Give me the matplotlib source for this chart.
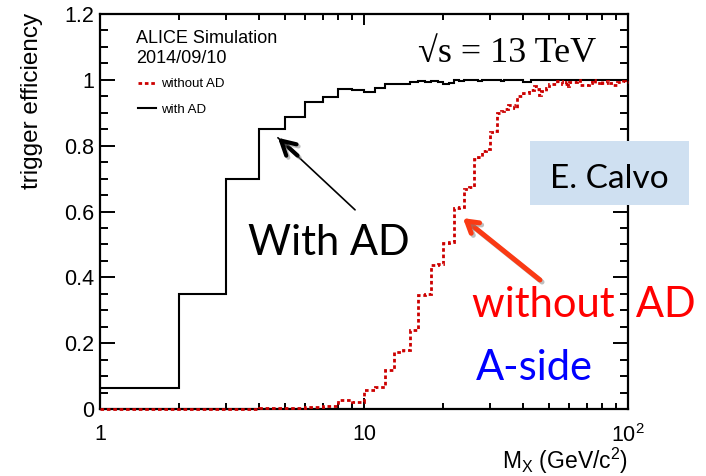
import numpy as np
import matplotlib
matplotlib.use("Agg")
import matplotlib.pyplot as plt
from matplotlib import patheffects
from matplotlib.ticker import FixedLocator, FixedFormatter
from matplotlib.patches import Rectangle

plt.rcParams['font.family'] = ['Liberation Sans', 'DejaVu Sans']
plt.rcParams['mathtext.fontset'] = 'custom'
plt.rcParams['mathtext.rm'] = 'Liberation Sans'
plt.rcParams['mathtext.it'] = 'Liberation Sans:italic'

# M_X bins, width 1 GeV/c^2 from 1 to 100
mx_edges = np.arange(1, 101)

eff_with_ad = [
    0.065, 0.350, 0.700, 0.850, 0.888, 0.934, 0.949, 0.972, 0.970, 0.963,
    0.975, 0.988, 0.986, 0.988, 0.994, 0.995, 0.993, 0.995, 0.994, 0.988,
    0.989, 0.998, 0.997, 0.998, 0.999, 0.998, 0.997, 0.998, 0.999, 0.998,
    0.998, 0.999, 0.997, 0.998, 0.999, 0.998, 0.998, 0.999, 0.998, 0.993,
    0.993, 0.993, 1.000, 0.999, 1.000, 1.000, 0.999, 1.000, 1.000, 0.999,
    1.000, 1.000, 1.000, 0.999, 1.000, 1.000, 1.000, 1.000, 0.999, 1.000,
    1.000, 1.000, 1.000, 1.000, 0.999, 1.000, 1.000, 1.000, 1.000, 1.000,
    1.000, 0.999, 1.000, 1.000, 1.000, 1.000, 1.000, 1.000, 1.000, 1.000,
    0.999, 1.000, 1.000, 1.000, 1.000, 1.000, 1.000, 1.000, 1.000, 1.000,
    1.000, 1.000, 1.000, 1.000, 1.000, 1.000, 1.000, 1.000, 1.000,
]

eff_without_ad = [
    0.000, 0.000, 0.001, 0.002, 0.004, 0.006, 0.010, 0.027, 0.022, 0.058,
    0.068, 0.119, 0.174, 0.178, 0.240, 0.345, 0.350, 0.436, 0.440, 0.503,
    0.507, 0.610, 0.615, 0.668, 0.673, 0.760, 0.765, 0.785, 0.790, 0.843,
    0.845, 0.900, 0.905, 0.910, 0.924, 0.924, 0.915, 0.950, 0.950, 0.959,
    0.959, 0.968, 0.968, 0.980, 0.971, 0.955, 0.965, 0.965, 0.975, 0.988,
    0.988, 0.988, 0.988, 0.995, 0.995, 0.988, 0.988, 0.993, 0.980, 0.993,
    0.993, 0.993, 0.993, 1.000, 1.000, 0.985, 0.985, 0.985, 0.985, 0.985,
    0.990, 0.990, 1.000, 1.000, 0.990, 0.990, 0.990, 0.990, 0.995, 0.990,
    0.990, 0.990, 0.995, 0.990, 0.990, 0.990, 0.990, 0.983, 0.983, 0.983,
    0.993, 0.993, 0.993, 0.993, 0.993, 0.995, 0.993, 0.993, 0.993,
]

x_ticks = [1, 10, 100]
x_ticklabels = ['1', '10', r'$10^{2}$']
y_ticks = [0, 0.2, 0.4, 0.6, 0.8, 1.0, 1.2]
y_ticklabels = ['0', '0.2', '0.4', '0.6', '0.8', '1', '1.2']

W, H = 706, 476


def fx(px):
    return px / W


def fy(py):
    return 1 - py / H


fig = plt.figure(figsize=(W / 100, H / 100), dpi=100)
ax = fig.add_axes([fx(100), fy(409), (628 - 100) / W, (409 - 14) / H])

ax.stairs(eff_with_ad, mx_edges, baseline=None, color='black', lw=1.5, label='with AD',
          zorder=3)
ax.stairs(eff_without_ad, mx_edges, baseline=None, color='#cc0000', lw=2.0,
          linestyle=(0, (1.3, 1.0)), label='without AD', clip_on=False, zorder=3)

ax.set_xscale('log')
ax.set_xlim(1, 100)
ax.set_ylim(0, 1.2)

ax.xaxis.set_major_locator(FixedLocator(x_ticks))
ax.xaxis.set_major_formatter(FixedFormatter(x_ticklabels))
ax.xaxis.set_minor_locator(FixedLocator([2, 3, 4, 5, 6, 7, 8, 9, 20, 30, 40, 50, 60, 70, 80, 90]))
ax.xaxis.set_minor_formatter(FixedFormatter([]))
ax.yaxis.set_major_locator(FixedLocator(y_ticks))
ax.yaxis.set_major_formatter(FixedFormatter(y_ticklabels))
ax.yaxis.set_minor_locator(FixedLocator(np.arange(0, 1.21, 0.05)))

ax.tick_params(axis='both', which='both', direction='in', top=True, right=True, width=1.4,
               labelsize=15.5, color='black')
ax.tick_params(axis='y', which='major', length=11, pad=4)
ax.tick_params(axis='y', which='minor', length=5.5)
ax.tick_params(axis='x', which='major', length=8, pad=11)
ax.tick_params(axis='x', which='minor', length=4.5)
for s in ax.spines.values():
    s.set_linewidth(1.6)

fig.text(fx(32), fy(13), 'trigger efficiency', rotation=90, ha='center', va='top', fontsize=17.5)
fig.text(fx(628), fy(461), r'M$_{\mathrm{X}}$ (GeV/c$^{2}$)', ha='right', va='center',
         fontsize=16.5)

fig.text(fx(136), fy(43), 'ALICE Simulation', fontsize=13, va='baseline')
fig.text(fx(136), fy(63), '2014/09/10', fontsize=13, va='baseline')

handles, labels = ax.get_legend_handles_labels()
leg = ax.legend(handles[::-1], labels[::-1], loc='upper left',
                bbox_to_anchor=(fx(138), fy(78)), bbox_transform=fig.transFigure,
                frameon=False, fontsize=9.5, handlelength=1.4, handletextpad=0.35,
                labelspacing=1.0, borderpad=0, borderaxespad=0)

fig.text(fx(418), fy(62), '\u221as = 13 TeV', family=['Liberation Serif', 'DejaVu Serif'],
         fontsize=26, va='baseline')

fig.patches.append(Rectangle((fx(530), fy(205)), (689 - 530) / W, (205 - 141) / H,
                             transform=fig.transFigure, facecolor='#cfe0f1', edgecolor='none'))
fig.text(fx(550), fy(188), 'E. Calvo', family=['Lato', 'DejaVu Sans'], fontsize=24, va='baseline')

fig.text(fx(248), fy(255), 'With AD', family=['Lato', 'DejaVu Sans'], fontsize=30, va='baseline')
fig.text(fx(472), fy(317), 'without  AD', family=['Lato', 'DejaVu Sans'], fontsize=30,
         va='baseline', color='#ff0000')
fig.text(fx(476), fy(380), 'A-side', family=['Lato', 'DejaVu Sans'], fontsize=30,
         va='baseline', color='#0000ff')

shadow = [patheffects.SimpleLineShadow(offset=(1.5, -1.5), shadow_color='gray', alpha=0.5),
          patheffects.Normal()]

# black arrow: thin shaft, thick open head
ax.annotate('', xy=(4.72, 0.824), xytext=(9.25, 0.605),
            arrowprops=dict(arrowstyle='-', color='black', lw=1.2, shrinkA=0, shrinkB=0))
ax.annotate('', xy=(4.72, 0.824), xytext=(5.6, 0.77),
            arrowprops=dict(arrowstyle='->, head_length=1.0, head_width=0.55', color='black',
                            lw=3.0, shrinkA=0, shrinkB=0, path_effects=shadow))

# red arrow
ax.annotate('', xy=(23.7, 0.58), xytext=(46.4, 0.392),
            arrowprops=dict(arrowstyle='->, head_length=0.8, head_width=0.48', color='#fa3a14',
                            lw=3.6, shrinkA=0, shrinkB=0, path_effects=shadow))

fig.savefig('out.png', dpi=100)
